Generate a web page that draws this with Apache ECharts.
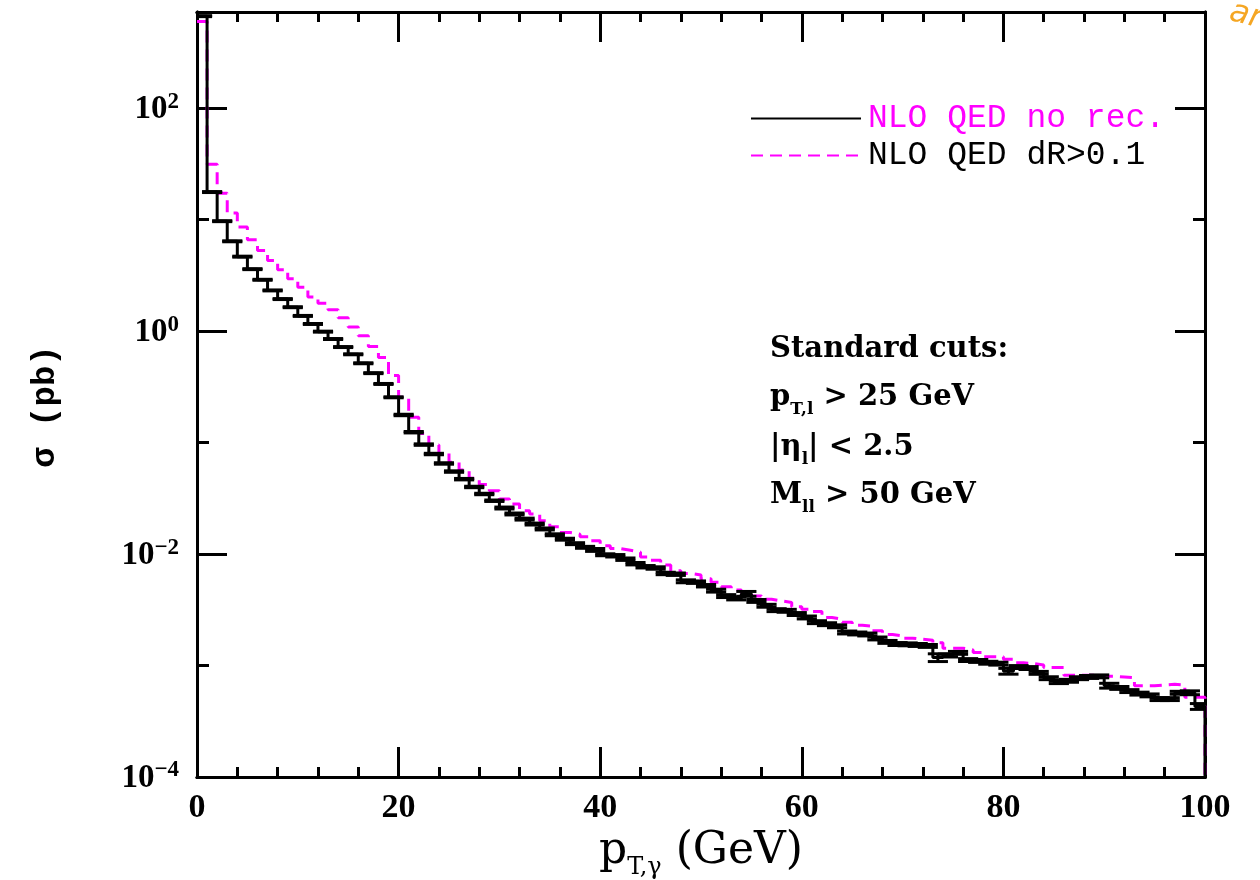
<!DOCTYPE html>
<html><head><meta charset="utf-8">
<script src="https://cdn.jsdelivr.net/npm/echarts@6/dist/echarts.min.js"></script>
<style>html,body{margin:0;padding:0;background:#fff}#c{width:1260px;height:880px}</style>
</head><body><div id="c"></div>
<script>
// ---- data (1 GeV bins, left edges 0..99) ----
const binWidth = 1;
const nloNoRec = [
 670, 17.7, 9.7, 6.4, 4.66, 3.6, 2.89, 2.32, 1.94, 1.64,
 1.37, 1.16, 0.99, 0.85, 0.72, 0.62, 0.515, 0.42, 0.336, 0.255,
 0.177, 0.124, 0.096, 0.079, 0.065, 0.055, 0.047, 0.040, 0.0346, 0.0301,
 0.0259, 0.0229, 0.0206, 0.0186, 0.0168, 0.0149, 0.0136, 0.0124, 0.0115, 0.0109,
 0.00986, 0.00966, 0.0090, 0.0082, 0.0077, 0.0075, 0.0067, 0.0066, 0.0057, 0.0056,
 0.0052, 0.0047, 0.0042, 0.0040, 0.0044, 0.0038, 0.00344, 0.00314, 0.0031, 0.0029,
 0.0027, 0.00245, 0.00235, 0.00225, 0.00198, 0.00194, 0.0019, 0.00175, 0.00163, 0.00156,
 0.00155, 0.00153, 0.0015, 0.00118, 0.00123, 0.0013, 0.00112, 0.0011, 0.00106, 0.00104,
 0.00089, 0.00097, 0.00095, 0.00086, 0.00077, 0.00071, 0.00073, 0.00077, 0.00079, 0.0008,
 0.00066, 0.00063, 0.00059, 0.00056, 0.00054, 0.0005, 0.0005, 0.00057, 0.00057, 0.00043
];
// relative statistical errors of the black histogram
const nloNoRecErr = [
 0.01, 0.01, 0.01, 0.01, 0.01, 0.01, 0.01, 0.01, 0.01, 0.01,
 0.01, 0.01, 0.01, 0.01, 0.01, 0.01, 0.01, 0.01, 0.01, 0.01,
 0.015, 0.015, 0.015, 0.015, 0.015, 0.015, 0.015, 0.015, 0.015, 0.015,
 0.02, 0.02, 0.02, 0.02, 0.02, 0.02, 0.02, 0.02, 0.02, 0.03,
 0.02, 0.025, 0.025, 0.025, 0.025, 0.025, 0.025, 0.025, 0.03, 0.025,
 0.025, 0.03, 0.03, 0.03, 0.05, 0.03, 0.03, 0.03, 0.03, 0.03,
 0.03, 0.03, 0.03, 0.03, 0.03, 0.03, 0.03, 0.03, 0.03, 0.03,
 0.03, 0.03, 0.03, 0.08, 0.03, 0.03, 0.03, 0.03, 0.03, 0.03,
 0.06, 0.03, 0.03, 0.03, 0.03, 0.03, 0.03, 0.03, 0.03, 0.03,
 0.05, 0.03, 0.03, 0.03, 0.03, 0.03, 0.03, 0.03, 0.04, 0.06
];
const nloDR = [
 600, 31.4, 17.3, 11.5, 8.6, 6.6, 5.3, 4.3, 3.56, 2.95,
 2.48, 2.02, 1.78, 1.56, 1.32, 1.09, 0.91, 0.73, 0.58, 0.40,
 0.255, 0.169, 0.121, 0.095, 0.080, 0.0665, 0.0568, 0.0478, 0.042, 0.037,
 0.0312, 0.0281, 0.0245, 0.0229, 0.0199, 0.0176, 0.0156, 0.0151, 0.0143, 0.0132,
 0.0119, 0.0112, 0.0108, 0.0104, 0.0094, 0.0088, 0.0080, 0.0071, 0.0067, 0.0065,
 0.0060, 0.0056, 0.0051, 0.00475, 0.0045, 0.0042, 0.00394, 0.0038, 0.00368, 0.00337,
 0.0032, 0.00305, 0.0027, 0.0026, 0.00245, 0.0023, 0.00225, 0.00205, 0.0019, 0.00185,
 0.00176, 0.00172, 0.00169, 0.0016, 0.00143, 0.00143, 0.00138, 0.00131, 0.0012, 0.0012,
 0.00114, 0.00106, 0.00104, 0.00101, 0.00096, 0.00096, 0.00082, 0.00082, 0.00082, 0.0008,
 0.0008, 0.00079, 0.00078, 0.00066, 0.00066, 0.00067, 0.00068, 0.00067, 0.00052, 0.00052
];
const xMin = 0, xMax = 100, xMajor = 20, xMinor = 4;
const yMin = 1e-4, yMax = 730;
const seriesNames = ['NLO QED no rec.', 'NLO QED dR>0.1'];
const xTitle = ['p', 'T,γ', ' (GeV)'];
const yTitle = 'σ (pb)';
const cutLines = [
  ['Standard cuts:'],
  ['p', 'T,l', ' > 25 GeV'],
  ['|η', 'l', '| < 2.5'],
  ['M', 'll', ' > 50 GeV']
];

// ---- build ----
function stepData(vals) {
  const d = vals.map((v, i) => [i * binWidth, v]);
  d.push([vals.length * binWidth, vals[vals.length - 1]]);
  d.push([vals.length * binWidth, yMin]);
  return d;
}
const BLACK = '#000000', MAG = '#ff00ff';
const serifB = 'Liberation Serif';

function yLabel(v) {
  const l = Math.log10(v), e = Math.round(l);
  if (Math.abs(l - e) > 1e-6) return '';
  const s = e < 0 ? '\u2212' + (-e) : String(e);
  return '{b|10}{s|' + s + '}';
}
function xAxisDef(pos, interval, len, labels) {
  return {
    type: 'value', position: pos, min: xMin, max: xMax, interval: interval,
    axisLine: { show: true, onZero: false, lineStyle: { color: BLACK, width: 3 } },
    axisTick: { show: true, inside: true, length: len, lineStyle: { color: BLACK, width: 3 } },
    axisLabel: labels ? { show: true, margin: 14, color: BLACK, fontFamily: serifB, fontWeight: 'bold', fontSize: 34 } : { show: false },
    splitLine: { show: false }
  };
}
function yAxisDef(pos, interval, len, labels) {
  return {
    type: 'log', logBase: 10, position: pos, min: yMin, max: yMax, interval: interval,
    axisLine: { show: true, onZero: false, lineStyle: { color: BLACK, width: 3 } },
    axisTick: { show: true, inside: true, length: len, lineStyle: { color: BLACK, width: 3 } },
    axisLabel: labels ? {
      show: true, margin: 18, formatter: yLabel,
      rich: {
        b: { fontFamily: serifB, fontWeight: 'bold', fontSize: 33, color: BLACK, verticalAlign: 'bottom', lineHeight: 36 },
        s: { fontFamily: serifB, fontWeight: 'bold', fontSize: 23, color: BLACK, verticalAlign: 'top', lineHeight: 36 }
      }
    } : { show: false },
    splitLine: { show: false }
  };
}

const xAxes = [
  Object.assign(xAxisDef('bottom', xMajor, 30, true), {
    name: '{p|' + xTitle[0] + '}{s|' + xTitle[1] + '}{n|' + xTitle[2] + '}',
    nameLocation: 'middle', nameGap: 48,
    nameTextStyle: {
      rich: {
        p: { fontFamily: 'DejaVu Serif', fontSize: 44, color: BLACK, verticalAlign: 'bottom', lineHeight: 46 },
        s: { fontFamily: 'DejaVu Serif', fontSize: 24, color: BLACK, verticalAlign: 'bottom', lineHeight: 46, padding: [0, 0, -6, 0] },
        n: { fontFamily: 'DejaVu Serif', fontSize: 44, color: BLACK, verticalAlign: 'bottom', lineHeight: 46 }
      }
    }
  }),
  xAxisDef('bottom', xMinor, 10, false),
  xAxisDef('top', xMajor, 30, false),
  xAxisDef('top', xMinor, 10, false)
];
const yAxes = [
  Object.assign(yAxisDef('left', 2, 30, true), {
    name: yTitle, nameLocation: 'middle', nameGap: 135, nameRotate: 90,
    nameTextStyle: { fontFamily: 'Liberation Mono', fontWeight: 'bold', fontSize: 34, color: BLACK, padding: [0, 0, 0, -24] }
  }),
  yAxisDef('left', 1, 12, false),
  yAxisDef('right', 2, 30, false),
  yAxisDef('right', 1, 12, false)
];

const richCut = {
  m: { fontFamily: 'DejaVu Serif', fontWeight: 'bold', fontSize: 29, fill: BLACK, verticalAlign: 'bottom', lineHeight: 34 },
  s: { fontFamily: 'DejaVu Serif', fontWeight: 'bold', fontSize: 17, fill: BLACK, verticalAlign: 'bottom', lineHeight: 34, padding: [0, 0, -6, 0] }
};
const cutTops = [335, 383, 433, 481];
const cutGraphics = cutLines.map((parts, k) => {
  let txt = '{m|' + parts[0] + '}';
  if (parts.length > 1) txt += '{s|' + parts[1] + '}{m|' + parts[2] + '}';
  return { type: 'text', left: 770, top: cutTops[k], z: 10, style: { text: txt, rich: richCut } };
});

const option = {
  backgroundColor: '#ffffff',
  animation: false,
  grid: { left: 197, right: 55, top: 12, bottom: 103, containLabel: false, outerBoundsMode: 'none' },
  xAxis: xAxes,
  yAxis: yAxes,
  legend: {
    orient: 'vertical', left: 745, top: 97, itemWidth: 110, itemHeight: 20, itemGap: 4,
    selectedMode: false,
    itemStyle: { opacity: 0, borderWidth: 0 },
    textStyle: { fontFamily: 'Liberation Mono', fontSize: 33, padding: [0, 0, 0, 2] },
    data: [
      { name: seriesNames[0], textStyle: { color: MAG } },
      { name: seriesNames[1], textStyle: { color: BLACK } }
    ]
  },
  graphic: cutGraphics.concat([
    { type: 'text', left: 1226, top: -4, rotation: -0.25, style: { text: 'ar(', fill: '#f5a623', font: 'italic 32px "DejaVu Sans"' } }
  ]),
  series: [
    {
      name: seriesNames[1], type: 'line', step: 'end', xAxisIndex: 0, yAxisIndex: 0,
      data: stepData(nloDR), showSymbol: false, symbol: 'none', clip: true, z: 2,
      lineStyle: { color: MAG, width: 3, type: [12, 7] }, itemStyle: { color: MAG }
    },
    {
      name: seriesNames[0], type: 'line', step: 'end', xAxisIndex: 0, yAxisIndex: 0,
      data: stepData(nloNoRec), showSymbol: false, symbol: 'none', clip: true, z: 3,
      lineStyle: { color: BLACK, width: 3 }, itemStyle: { color: BLACK }
    },
    {
      name: 'err', type: 'custom', xAxisIndex: 0, yAxisIndex: 0, clip: true, z: 4, silent: true,
      data: nloNoRec.map((v, i) => [i * binWidth, v, nloNoRecErr[i]]),
      renderItem: function (params, api) {
        const x = api.value(0), v = api.value(1), e = api.value(2);
        const hi = v * (1 + e), lo = v * (1 - e);
        const a1 = api.coord([x - 0.5 * binWidth, hi]), b1 = api.coord([x + 1.5 * binWidth, hi]);
        const a2 = api.coord([x - 0.5 * binWidth, lo]), b2 = api.coord([x + 1.5 * binWidth, lo]);
        const c1 = api.coord([x + 0.5 * binWidth, hi]), c2 = api.coord([x + 0.5 * binWidth, lo]);
        const st = { stroke: BLACK, lineWidth: 3 };
        return { type: 'group', children: [
          { type: 'line', shape: { x1: a1[0], y1: a1[1], x2: b1[0], y2: b1[1] }, style: st },
          { type: 'line', shape: { x1: a2[0], y1: a2[1], x2: b2[0], y2: b2[1] }, style: st },
          { type: 'line', shape: { x1: c1[0], y1: c1[1], x2: c2[0], y2: c2[1] }, style: st }
        ]};
      }
    }
  ]
};
const chart = echarts.init(document.getElementById('c'), null, { renderer: 'canvas' });
chart.setOption(option);
</script>
</body></html>
